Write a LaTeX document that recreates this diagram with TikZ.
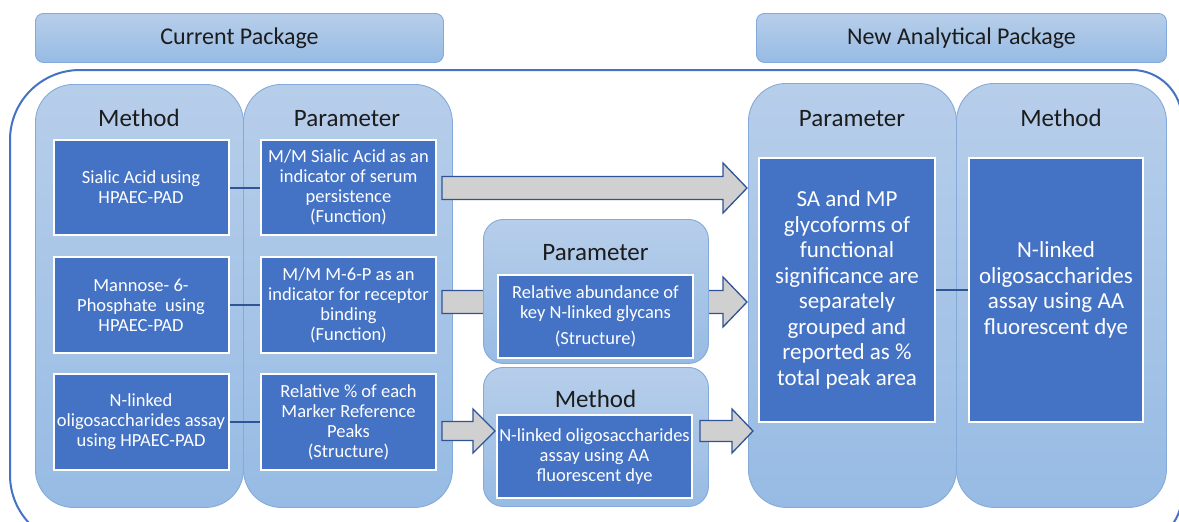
\documentclass[tikz,border=0pt]{standalone}
\usepackage{fontspec}
\setmainfont{Carlito}
\usetikzlibrary{calc}

\definecolor{frameblue}{HTML}{4472C4}
\definecolor{boxblue}{HTML}{4472C4}
\definecolor{lighttop}{HTML}{B7CEEA}
\definecolor{lightbot}{HTML}{97BBE4}
\definecolor{lightedge}{HTML}{84AADB}
\definecolor{linkblue}{HTML}{2F5597}
\definecolor{arrowgray}{HTML}{D0D0D0}
\definecolor{arrowedge}{HTML}{2F5496}
\definecolor{ink}{HTML}{1C1C1C}

\begin{document}
\begin{tikzpicture}[x=1pt,y=-1pt,
  panel/.style={draw=lightedge, line width=0.9pt, top color=lighttop, bottom color=lightbot,
    inner sep=0pt, anchor=north west},
  header/.style={panel, rounded corners=8pt, font=\fontsize{24}{28}\selectfont, text=ink},
  column/.style={panel, rounded corners=38pt},
  subpanel/.style={panel, rounded corners=20pt},
  coltitle/.style={anchor=base, inner sep=0pt, font=\fontsize{25}{30}\selectfont, text=ink},
  darkbox/.style={draw=white, line width=2pt, fill=boxblue, text=white, align=center,
    inner sep=0pt, font=\fontsize{18.5}{20}\selectfont},
  bigtext/.style={font=\fontsize{23}{25.5}\selectfont},
  link/.style={draw=linkblue, line width=2pt},
  frame/.style={draw=frameblue, line width=2pt},
  blockarrow/.style n args={3}{draw=arrowedge, fill=arrowgray, line width=1.3pt, line join=miter,
    to path={let \p1=(\tikztostart), \p2=(\tikztotarget) in
      (\x1,\y1+#1) -- (\x2-#3,\y1+#1) -- (\x2-#3,\y1+#2) -- (\x2,\y1)
      -- (\x2-#3,\y1-#2) -- (\x2-#3,\y1-#1) -- (\x1,\y1-#1) -- cycle}}
]
\useasboundingbox (0,0) rectangle (1179,522);
\clip (0,0) rectangle (1179,522);
\fill[white] (0,0) rectangle (1179,522);

% outer frame around both packages
\draw[frame] (10,140) .. controls (10,101.3) and (41.3,70) .. (80,70)
  -- (1132,70) .. controls (1159.6,70) and (1182,92.4) .. (1182,120)
  -- (1182,495) .. controls (1182,522.6) and (1159.6,545) .. (1132,545)
  -- (80,545) .. controls (41.3,545) and (10,513.7) .. (10,475) -- cycle;

% package headers
\node[header, minimum width=408pt, minimum height=49pt] (hcur) at (35,13) {Current Package};
\node[header, minimum width=410pt, minimum height=49pt] (hnew) at (756,13) {New Analytical Package};

% current package: method and parameter columns
\node[column, minimum width=208pt, minimum height=423pt] (lmeth) at (35,84) {};
\node[column, minimum width=209pt, minimum height=423pt] (lpar) at (243,84) {};
\node[coltitle] (tlmeth) at (139,126) {Method};
\node[coltitle] (tlpar) at (347,126) {Parameter};

\node[darkbox, minimum width=175pt, minimum height=95pt] (m1) at (141,187.5)
  {Sialic Acid using\\HPAEC-PAD};
\node[darkbox, minimum width=175pt, minimum height=96pt] (m2) at (141,305)
  {Mannose- 6-\\Phosphate\ \ using\\HPAEC-PAD};
\node[darkbox, minimum width=175pt, minimum height=96pt] (m3) at (141,422)
  {N-linked\\oligosaccharides assay\\using HPAEC-PAD};

\node[darkbox, minimum width=175pt, minimum height=95pt] (p1) at (348.5,187.5)
  {M/M Sialic Acid as an\\indicator of serum\\persistence\\(Function)};
\node[darkbox, minimum width=175pt, minimum height=96pt] (p2) at (348.5,305)
  {M/M M-6-P as an\\indicator for receptor\\binding\\(Function)};
\node[darkbox, minimum width=175pt, minimum height=96pt] (p3) at (348.5,422)
  {Relative \% of each\\Marker Reference\\Peaks\\(Structure)};

\draw[link] (m1) -- (p1);
\draw[link] (m2) -- (p2);
\draw[link] (m3) -- (p3);

% arrow end points
\coordinate (a1s) at (442,188);
\coordinate (a1e) at (747,188);
\coordinate (a2s) at (442,302);
\coordinate (a2e) at (747,302);
\coordinate (a3s) at (442,431);
\coordinate (a3e) at (495,431);
\coordinate (a4s) at (700,431);
\coordinate (a4e) at (753,431);

% the middle arrow runs behind the structure panel
\draw[blockarrow={11.5pt}{25pt}{24pt}] (a2s) to (a2e);

% intermediate parameter and method panels
\node[subpanel, minimum width=225pt, minimum height=144pt] (mpar) at (483,219) {};
\node[coltitle] (tmpar) at (595.5,260) {Parameter};
\node[darkbox, minimum width=195pt, minimum height=83pt] (mparbox) at (595.5,316.5)
  {Relative abundance of\\key N-linked glycans\\[6pt](Structure)};

\node[subpanel, minimum width=225pt, minimum height=139pt] (mmeth) at (483,367) {};
\node[coltitle] (tmmeth) at (595.5,407) {Method};
\node[darkbox, minimum width=195pt, minimum height=83pt] (mmethbox) at (594.5,456.5)
  {N-linked oligosaccharides\\assay using AA\\fluorescent dye};

% new analytical package columns
\node[column, minimum width=208pt, minimum height=424pt] (rpar) at (748,83) {};
\node[column, minimum width=210pt, minimum height=424pt] (rmeth) at (956,83) {};
\node[coltitle] (trpar) at (852,126) {Parameter};
\node[coltitle] (trmeth) at (1061,126) {Method};

\node[darkbox, bigtext, minimum width=176pt, minimum height=264pt] (rparbox) at (847,290)
  {SA and MP\\glycoforms of\\functional\\significance are\\separately\\grouped and\\reported as \%\\total peak area};
\node[darkbox, bigtext, minimum width=174pt, minimum height=264pt] (rmethbox) at (1056,290)
  {N-linked\\oligosaccharides\\assay using AA\\fluorescent dye};
\draw[link] (rparbox) -- (rmethbox);

% remaining block arrows
\draw[blockarrow={11.5pt}{25pt}{24pt}] (a1s) to (a1e);
\draw[blockarrow={9.5pt}{22pt}{22pt}] (a3s) to (a3e);
\draw[blockarrow={10.5pt}{22pt}{21pt}] (a4s) to (a4e);
\end{tikzpicture}
\end{document}
